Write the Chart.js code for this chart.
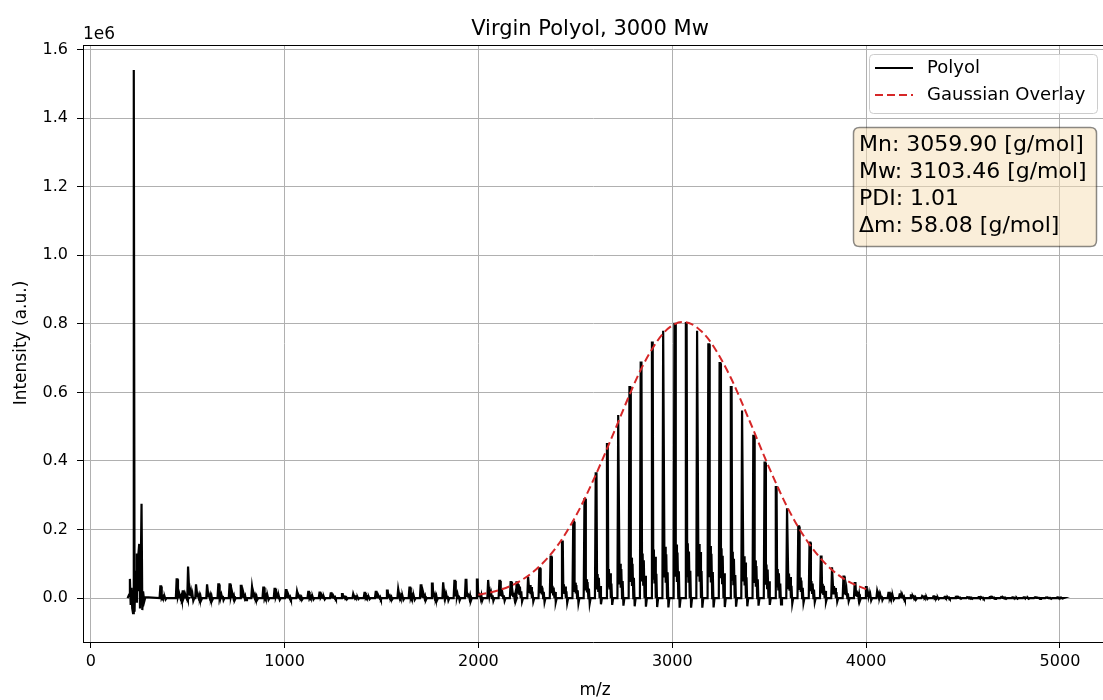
<!DOCTYPE html>
<html>
<head>
<meta charset="utf-8">
<script src="https://cdn.jsdelivr.net/npm/chart.js@4.4.1/dist/chart.umd.min.js"></script>
<style>
  body { margin: 0; background: #fff; }
  #wrap { width: 1103px; height: 700px; }
</style>
</head>
<body>
<div id="wrap"><canvas id="spectrum" width="1103" height="700"></canvas></div>
<script>
// intensities are in units of 1e6 (as on the axis)
const lowClusterMz  = [190, 198, 202, 206, 210, 214, 218, 222, 226, 230, 234, 238, 242, 246, 250, 254, 258, 262, 266, 270, 276, 282];
const lowClusterInt = [0, 0.01, 0.056, -0.02, 0.03, -0.03, -0.044, 1.54, -0.04, 0.08, -0.01, 0.13, 0.02, 0.13, 0.158, -0.03, 0.09, 0.275, -0.035, 0.02, -0.01, 0.003];

const peakMz = [361, 445, 476, 504, 545, 602, 660, 718, 776, 834, 892, 950, 1008, 1066, 1124, 1182,
  1240, 1298, 1356, 1414, 1472, 1530, 1588, 1646, 1704, 1762, 1820, 1878, 1936, 1994, 2052, 2110,
  2168, 2200, 2258, 2316, 2374, 2433, 2491, 2549, 2607, 2665, 2723, 2781, 2839, 2897, 2955, 3013,
  3072, 3130, 3188, 3246, 3304, 3362, 3420, 3478, 3536, 3594, 3652, 3710, 3768, 3826, 3885, 3943,
  4001, 4059, 4117, 4175, 4233, 4291, 4349, 4407, 4465, 4523, 4582, 4640, 4698, 4756, 4814, 4872,
  4930, 4988];
const mainInt = [0.034, 0.055, 0.02, 0.092, 0.04, 0.04, 0.04, 0.04, 0.036, 0.033, 0.031, 0.027, 0.023, 0.02, 0.018, 0.016,
  0.014, 0.012, 0.013, 0.015, 0.018, 0.022, 0.027, 0.031, 0.037, 0.042, 0.046, 0.05, 0.053, 0.054, 0.053, 0.05,
  0.047, 0.046, 0.063, 0.087, 0.121, 0.165, 0.223, 0.289, 0.364, 0.449, 0.534, 0.615, 0.687, 0.745, 0.78, 0.8,
  0.802, 0.78, 0.74, 0.685, 0.615, 0.547, 0.473, 0.395, 0.324, 0.262, 0.209, 0.162, 0.121, 0.09, 0.063, 0.044,
  0.032, 0.021, 0.015, 0.011, 0.008, 0.006, 0.005, 0.004, 0.004, 0.003, 0.003, 0.003, 0.003, 0.002, 0.002, 0.002,
  0.002, 0.002];
const sideInt = [0.006, 0.01, 0.008, 0.02, 0.012, 0.012, 0.012, 0.012, 0.011, 0.01, 0.009, 0.008, 0.007, 0.006, 0.006, 0.005,
  0.005, 0.004, 0.004, 0.005, 0.006, 0.007, 0.008, 0.009, 0.011, 0.012, 0.013, 0.014, 0.015, 0.016, 0.016, 0.016,
  0.018, 0.04, 0.038, 0.036, 0.036, 0.04, 0.045, 0.055, 0.07, 0.085, 0.1, 0.118, 0.13, 0.142, 0.15, 0.156,
  0.16, 0.158, 0.152, 0.145, 0.135, 0.122, 0.11, 0.098, 0.085, 0.072, 0.06, 0.05, 0.042, 0.035, 0.028, 0.022,
  0.017, 0.012, 0.009, 0.007, 0.005, 0.004, 0.003, 0.003, 0.002, 0.002, 0.002, 0.002, 0.002, 0.001, 0.001, 0.001,
  0.001, 0.001];
const dipInt = [-0.004, -0.006, -0.004, -0.008, -0.006, -0.006, -0.006, -0.006, -0.006, -0.005, -0.005, -0.005, -0.004, -0.004, -0.004, -0.004,
  -0.003, -0.003, -0.003, -0.003, -0.004, -0.004, -0.005, -0.005, -0.006, -0.006, -0.007, -0.007, -0.008, -0.008, -0.008, -0.008,
  -0.008, -0.01, -0.01, -0.012, -0.012, -0.014, -0.015, -0.016, -0.018, -0.02, -0.022, -0.024, -0.025, -0.026, -0.027, -0.028,
  -0.028, -0.028, -0.027, -0.026, -0.025, -0.024, -0.022, -0.02, -0.018, -0.016, -0.014, -0.012, -0.011, -0.01, -0.009, -0.008,
  -0.007, -0.006, -0.005, -0.004, -0.004, -0.003, -0.003, -0.002, -0.002, -0.002, -0.002, -0.002, -0.002, -0.002, -0.002, -0.002,
  -0.002, -0.001];

const gaussMz  = [2000, 2100, 2200, 2300, 2400, 2500, 2600, 2700, 2800, 2850, 2900, 2950, 3000, 3050, 3100, 3150, 3200, 3300, 3400, 3500, 3600, 3700, 3800, 3900, 4000];
const gaussInt = [0.01, 0.022, 0.045, 0.085, 0.147, 0.237, 0.353, 0.485, 0.62, 0.68, 0.73, 0.77, 0.795, 0.805, 0.799, 0.778, 0.745, 0.645, 0.515, 0.38, 0.258, 0.163, 0.095, 0.051, 0.026];

const yTicks = [0, 0.2, 0.4, 0.6, 0.8, 1.0, 1.2, 1.4, 1.6];
const xTicks = [0, 1000, 2000, 3000, 4000, 5000];

const statsLines = ['Mn: 3059.90 [g/mol]', 'Mw: 3103.46 [g/mol]', 'PDI: 1.01', '\u0394m: 58.08 [g/mol]'];

const FONT = 'DejaVu Sans';
const RED = '#d62728';

// build the profile line from the peak tables
const profile = [];
lowClusterMz.forEach((mz, i) => profile.push({x: mz, y: lowClusterInt[i]}));
peakMz.forEach((mz, i) => {
    const h = mainInt[i], s = sideInt[i];
    profile.push({x: mz - 6, y: 0});
    profile.push({x: mz - 2, y: h});
    profile.push({x: mz + 2, y: h});
    profile.push({x: mz + 5, y: s * 0.4});
    profile.push({x: mz + 8, y: s});
    profile.push({x: mz + 11, y: s * 0.3});
    profile.push({x: mz + 14, y: s * 0.85});
    profile.push({x: mz + 18, y: 0});
    profile.push({x: mz + 21, y: s * 0.5});
    profile.push({x: mz + 25, y: dipInt[i]});
    profile.push({x: mz + 30, y: 0});
});
profile.push({x: 5000, y: 0});

const gauss = gaussMz.map((mz, i) => ({x: mz, y: gaussInt[i]}));

function roundRect(ctx, x, y, w, h, r) {
    ctx.beginPath();
    ctx.moveTo(x + r, y);
    ctx.lineTo(x + w - r, y);
    ctx.quadraticCurveTo(x + w, y, x + w, y + r);
    ctx.lineTo(x + w, y + h - r);
    ctx.quadraticCurveTo(x + w, y + h, x + w - r, y + h);
    ctx.lineTo(x + r, y + h);
    ctx.quadraticCurveTo(x, y + h, x, y + h - r);
    ctx.lineTo(x, y + r);
    ctx.quadraticCurveTo(x, y, x + r, y);
    ctx.closePath();
}

const decorations = {
    id: 'decorations',
    afterDraw(chart) {
        const ctx = chart.ctx;
        const a = chart.chartArea;
        ctx.save();
        // top spine
        ctx.strokeStyle = '#000';
        ctx.lineWidth = 1;
        ctx.beginPath();
        ctx.moveTo(a.left, a.top + 0.5);
        ctx.lineTo(a.right, a.top + 0.5);
        ctx.stroke();

        ctx.fillStyle = '#000';
        // title
        ctx.font = '21px "' + FONT + '"';
        ctx.textAlign = 'center';
        ctx.textBaseline = 'alphabetic';
        ctx.fillText('Virgin Polyol, 3000 Mw', 590, 35);
        // offset text
        ctx.font = '17px "' + FONT + '"';
        ctx.textAlign = 'left';
        ctx.fillText('1e6', 83, 39);
        // axis titles
        ctx.textAlign = 'center';
        ctx.fillText('m/z', 595, 695);
        ctx.save();
        ctx.translate(26, 343);
        ctx.rotate(-Math.PI / 2);
        ctx.fillText('Intensity (a.u.)', 0, 0);
        ctx.restore();

        // legend
        roundRect(ctx, 869.5, 54.5, 228, 59, 4);
        ctx.fillStyle = 'rgba(255,255,255,0.8)';
        ctx.fill();
        ctx.strokeStyle = '#cccccc';
        ctx.lineWidth = 1;
        ctx.stroke();
        ctx.lineWidth = 2;
        ctx.strokeStyle = '#000';
        ctx.beginPath();
        ctx.moveTo(875, 68);
        ctx.lineTo(913, 68);
        ctx.stroke();
        ctx.strokeStyle = RED;
        ctx.setLineDash([8, 4]);
        ctx.beginPath();
        ctx.moveTo(875, 95);
        ctx.lineTo(913, 95);
        ctx.stroke();
        ctx.setLineDash([]);
        ctx.fillStyle = '#000';
        ctx.font = '18px "' + FONT + '"';
        ctx.textAlign = 'left';
        ctx.textBaseline = 'middle';
        ctx.fillText('Polyol', 927, 68);
        ctx.fillText('Gaussian Overlay', 927, 95);

        // stats box
        roundRect(ctx, 853.5, 127.5, 243, 119, 6);
        ctx.fillStyle = 'rgba(245,222,179,0.5)';
        ctx.fill();
        ctx.strokeStyle = 'rgba(0,0,0,0.45)';
        ctx.lineWidth = 1.5;
        ctx.stroke();
        ctx.fillStyle = '#000';
        ctx.font = '22px "' + FONT + '"';
        statsLines.forEach((t, i) => ctx.fillText(t, 859, 145 + i * 27.2));
        ctx.restore();
    }
};

new Chart(document.getElementById('spectrum'), {
    type: 'line',
    data: {
        datasets: [
            {
                label: 'Gaussian Overlay',
                data: gauss,
                borderColor: RED,
                borderWidth: 2,
                borderDash: [8, 4],
                pointRadius: 0,
                cubicInterpolationMode: 'monotone',
                fill: false,
                order: 0
            },
            {
                label: 'Polyol',
                data: profile,
                borderColor: '#000',
                borderWidth: 2.2,
                pointRadius: 0,
                tension: 0,
                fill: false,
                order: 1
            }
        ]
    },
    options: {
        responsive: false,
        animation: false,
        devicePixelRatio: 1,
        parsing: false,
        layout: { padding: { top: 45, left: 0, right: 0, bottom: 0 } },
        plugins: {
            legend: { display: false },
            title: { display: false },
            tooltip: { enabled: false }
        },
        scales: {
            x: {
                type: 'linear',
                min: -40,
                max: 5222,
                afterFit: s => { s.height = 58; },
                afterBuildTicks: s => { s.ticks = xTicks.map(v => ({value: v})); },
                ticks: {
                    includeBounds: false,
                    color: '#000',
                    padding: 4,
                    maxRotation: 0,
                    font: { family: FONT, size: 16 },
                    callback: v => String(v)
                },
                grid: { color: '#b0b0b0', lineWidth: 1, tickLength: 6, tickColor: '#000' },
                border: { display: true, color: '#000', width: 1 }
            },
            y: {
                type: 'linear',
                min: -0.128,
                max: 1.613,
                afterFit: s => { s.width = 83; },
                afterBuildTicks: s => { s.ticks = yTicks.map(v => ({value: v})); },
                ticks: {
                    includeBounds: false,
                    color: '#000',
                    padding: 9,
                    font: { family: FONT, size: 16 },
                    callback: v => v.toFixed(1)
                },
                grid: { color: '#b0b0b0', lineWidth: 1, tickLength: 6, tickColor: '#000' },
                border: { display: true, color: '#000', width: 1 }
            }
        }
    },
    plugins: [decorations]
});
</script>
</body>
</html>
